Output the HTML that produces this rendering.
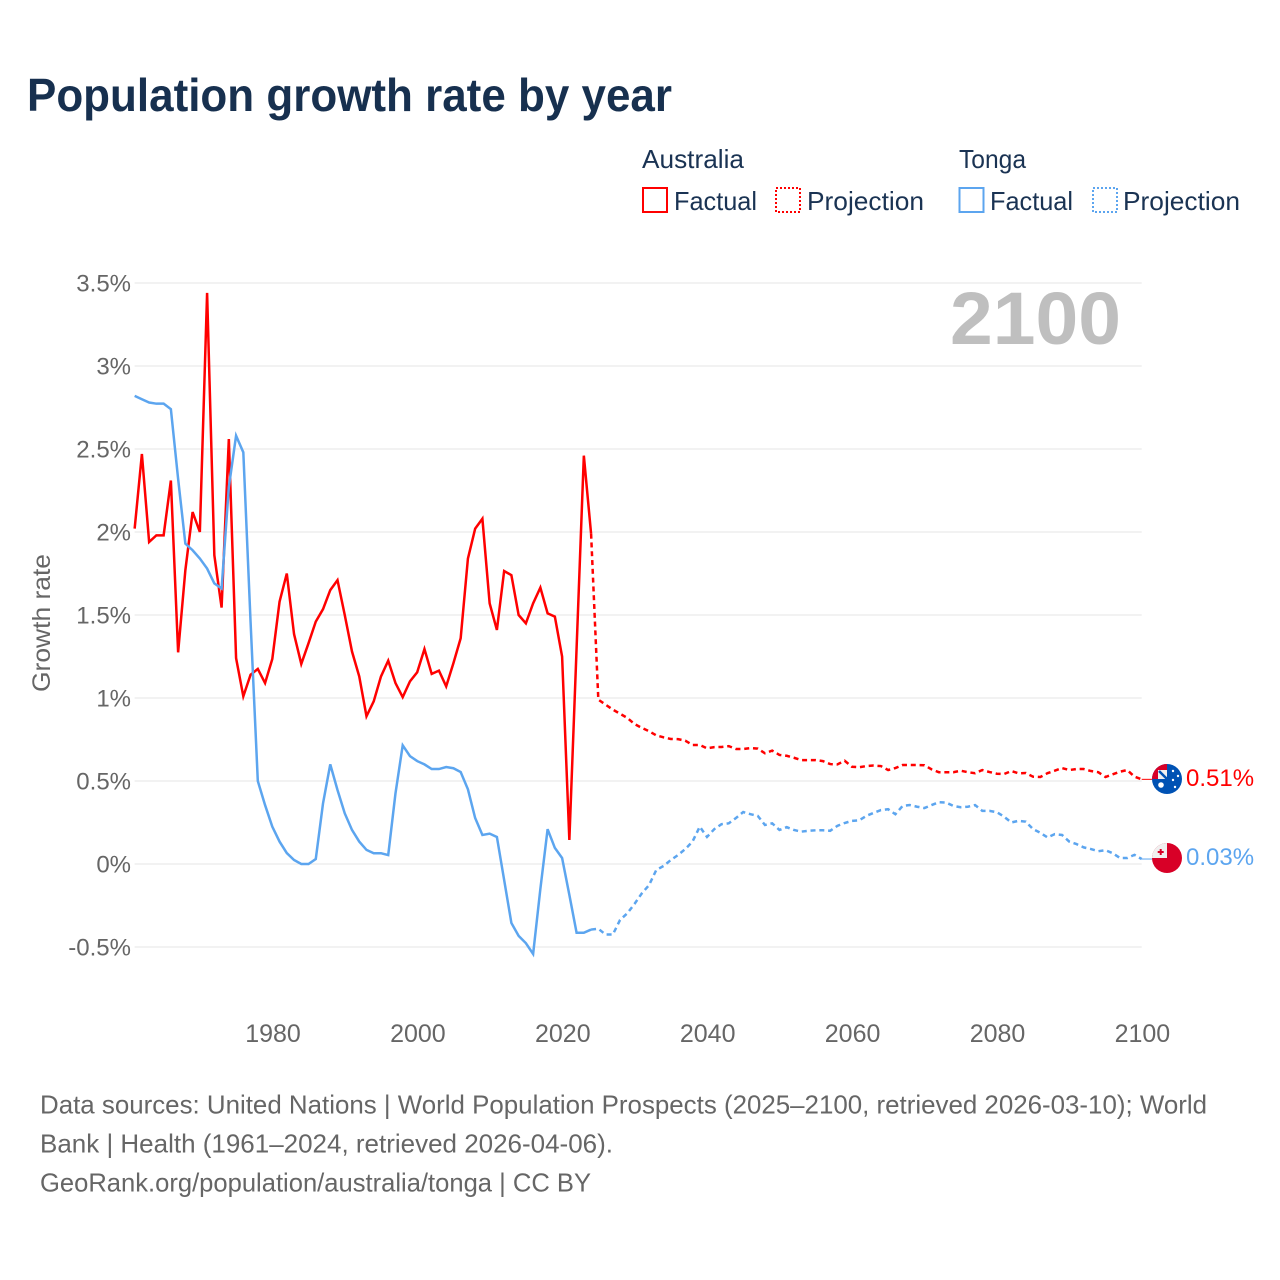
<!DOCTYPE html>
<html lang="en">
<head>
<meta charset="utf-8">
<title>Population growth rate by year</title>
<style>
html,body{margin:0;padding:0;background:#fff;}
svg{display:block;font-family:"Liberation Sans",sans-serif;}
</style>
</head>
<body>
<svg id="chart" xmlns="http://www.w3.org/2000/svg" width="1280" height="1280" viewBox="0 0 1280 1280">
  <defs>
    <clipPath id="clip-au"><circle cx="1167" cy="779" r="15"/></clipPath>
    <clipPath id="clip-to"><circle cx="1167" cy="858" r="15"/></clipPath>
  </defs>
  <rect width="1280" height="1280" fill="#fff"/>
  <text x="27" y="111" font-size="46" font-weight="700" fill="#17304f" textLength="645" lengthAdjust="spacingAndGlyphs">Population growth rate by year</text>

  <g font-size="26" fill="#1a3353">
    <text x="642" y="168" textLength="102" lengthAdjust="spacingAndGlyphs">Australia</text>
    <text x="959" y="168" textLength="67" lengthAdjust="spacingAndGlyphs">Tonga</text>
    <rect x="643" y="188" width="24" height="24" fill="none" stroke="#ff0000" stroke-width="2"/>
    <text x="674" y="210" textLength="83" lengthAdjust="spacingAndGlyphs">Factual</text>
    <rect x="776" y="188" width="24" height="24" fill="none" stroke="#ff0000" stroke-width="2" stroke-dasharray="2,2"/>
    <text x="807" y="210" textLength="117" lengthAdjust="spacingAndGlyphs">Projection</text>
    <rect x="959.5" y="188" width="24" height="24" fill="none" stroke="#5ca5ef" stroke-width="2"/>
    <text x="990" y="210" textLength="83" lengthAdjust="spacingAndGlyphs">Factual</text>
    <rect x="1093" y="188" width="24" height="24" fill="none" stroke="#5ca5ef" stroke-width="2" stroke-dasharray="2,2"/>
    <text x="1123" y="210" textLength="117" lengthAdjust="spacingAndGlyphs">Projection</text>
  </g>

  <g id="grid"></g>
  <g id="x-axis"></g>
  <g id="y-axis"></g>

  <text x="950" y="344" font-size="74" font-weight="700" fill="#bfbfbf" textLength="171" lengthAdjust="spacingAndGlyphs">2100</text>
  <text transform="translate(50,623) rotate(-90)" text-anchor="middle" font-size="25" fill="#666" textLength="138" lengthAdjust="spacingAndGlyphs">Growth rate</text>

  <g id="series"></g>

  <g clip-path="url(#clip-au)">
    <rect x="1150" y="762" width="34" height="34" fill="#0052b4"/>
    <rect x="1150" y="762" width="17" height="17" fill="#d80027"/>
    <rect x="1158" y="770" width="9" height="9" fill="#f0f0f0"/>
    <path d="M1159 771L1167 779" stroke="#0052b4" stroke-width="2.500"/>
    <circle cx="1161" cy="785" r="2.800" fill="#fff"/>
    <circle cx="1173" cy="771" r="1.200" fill="#fff"/>
    <circle cx="1178" cy="776" r="1.200" fill="#fff"/>
    <circle cx="1173" cy="780" r="1.200" fill="#fff"/>
    <circle cx="1175" cy="787" r="1.200" fill="#fff"/>
  </g>
  <g clip-path="url(#clip-to)">
    <rect x="1150" y="841" width="34" height="34" fill="#d80027"/>
    <rect x="1150" y="841" width="17" height="17" fill="#f0f0f0"/>
    <path d="M1160.700 849v6M1157.700 852h6" stroke="#d80027" stroke-width="2"/>
  </g>

  <text id="end-label-australia" x="1186" y="786" font-size="24" fill="#ff0000"></text>
  <text id="end-label-tonga" x="1186" y="865" font-size="24" fill="#5ca5ef"></text>

  <g font-size="26" fill="#666">
    <text x="40" y="1113.500" textLength="1167" lengthAdjust="spacingAndGlyphs">Data sources: United Nations | World Population Prospects (2025–2100, retrieved 2026-03-10); World</text>
    <text x="40" y="1152.500" textLength="573" lengthAdjust="spacingAndGlyphs">Bank | Health (1961–2024, retrieved 2026-04-06).</text>
    <text x="40" y="1191.500" textLength="551" lengthAdjust="spacingAndGlyphs">GeoRank.org/population/australia/tonga | CC BY</text>
  </g>
</svg>
<script>
const yTickValues = [-0.5, 0, 0.5, 1, 1.5, 2, 2.5, 3, 3.5];
const yTickLabels = ["-0.5%", "0%", "0.5%", "1%", "1.5%", "2%", "2.5%", "3%", "3.5%"];
const xTickYears = [1980, 2000, 2020, 2040, 2060, 2080, 2100];

const factualStartYear = 1961;
const projectionStartYear = 2025;

const australiaFactual = [
  2.02, 2.47, 1.94, 1.98, 1.98, 2.31, 1.275, 1.77, 2.12, 2.0,
  3.44, 1.86, 1.545, 2.56, 1.24, 1.01, 1.14, 1.175, 1.09, 1.235,
  1.58, 1.75, 1.385, 1.205, 1.33, 1.46, 1.535, 1.65, 1.71, 1.5,
  1.28, 1.13, 0.89, 0.98, 1.13, 1.225, 1.09, 1.005, 1.1, 1.155,
  1.295, 1.145, 1.165, 1.07, 1.21, 1.36, 1.84, 2.02, 2.08, 1.57,
  1.41, 1.765, 1.74, 1.5, 1.45, 1.57, 1.665, 1.51, 1.49, 1.25,
  0.145, 1.3, 2.46, 1.99
];
const australiaProjection = [
  0.99, 0.96, 0.93, 0.905, 0.88, 0.843, 0.82, 0.8, 0.775, 0.763,
  0.753, 0.752, 0.743, 0.717, 0.717, 0.697, 0.704, 0.705, 0.71, 0.693,
  0.693, 0.698, 0.695, 0.667, 0.683, 0.657, 0.652, 0.64, 0.626, 0.626,
  0.626, 0.62, 0.602, 0.6, 0.622, 0.586, 0.583, 0.59, 0.593, 0.59,
  0.566, 0.578, 0.596, 0.596, 0.596, 0.595, 0.57, 0.553, 0.553, 0.553,
  0.562, 0.553, 0.547, 0.566, 0.554, 0.544, 0.542, 0.56, 0.546, 0.548,
  0.526, 0.524, 0.547, 0.562, 0.578, 0.566, 0.572, 0.572, 0.56, 0.553,
  0.524, 0.54, 0.556, 0.566, 0.526, 0.51
];
const tongaFactual = [
  2.82, 2.8, 2.78, 2.773, 2.773, 2.74, 2.32, 1.93, 1.89, 1.84,
  1.78, 1.69, 1.66, 2.27, 2.58, 2.48, 1.46, 0.5, 0.355, 0.225,
  0.135, 0.066, 0.024, 0, 0, 0.03, 0.365, 0.6, 0.446, 0.305,
  0.205, 0.135, 0.085, 0.065, 0.065, 0.054, 0.425, 0.715, 0.65, 0.62,
  0.6, 0.572, 0.572, 0.584, 0.577, 0.554, 0.45, 0.277, 0.175, 0.183,
  0.163, -0.096, -0.355, -0.433, -0.477, -0.542, -0.15, 0.21, 0.097, 0.036,
  -0.186, -0.414, -0.414, -0.395
];
const tongaProjection = [
  -0.39, -0.425, -0.425, -0.337, -0.297, -0.24, -0.177, -0.127, -0.036, -0.012,
  0.024, 0.054, 0.09, 0.135, 0.225, 0.163, 0.21, 0.24, 0.245, 0.277,
  0.313, 0.3, 0.29, 0.235, 0.245, 0.205, 0.222, 0.205, 0.195, 0.2,
  0.203, 0.203, 0.2, 0.23, 0.247, 0.26, 0.263, 0.29, 0.308, 0.325,
  0.33, 0.3, 0.35, 0.355, 0.345, 0.337, 0.355, 0.372, 0.37, 0.35,
  0.342, 0.345, 0.355, 0.32, 0.32, 0.312, 0.285, 0.25, 0.26, 0.255,
  0.21, 0.188, 0.16, 0.18, 0.175, 0.135, 0.12, 0.1, 0.09, 0.077,
  0.083, 0.065, 0.036, 0.036, 0.055, 0.03
];

const SVG_NS = "http://www.w3.org/2000/svg";
const RED = "#ff0000";
const BLUE = "#5ca5ef";

function xScale(year) {
  return 272.3 + (year - 1980) * 7.245;
}
function yScale(value) {
  return 864 - value * 166;
}
function make(tag, parent) {
  const el = document.createElementNS(SVG_NS, tag);
  parent.appendChild(el);
  return el;
}
function linePath(values, startYear, leadYear, leadValue) {
  const pts = [];
  if (leadYear !== null) {
    pts.push(xScale(leadYear).toFixed(2) + "," + yScale(leadValue).toFixed(2));
  }
  values.forEach(function (v, i) {
    pts.push(xScale(startYear + i).toFixed(2) + "," + yScale(v).toFixed(2));
  });
  return "M" + pts.join("L");
}

const gridGroup = document.getElementById("grid");


const yAxisGroup = document.getElementById("y-axis");


const xAxisGroup = document.getElementById("x-axis");


const seriesGroup = document.getElementById("series");



yTickValues.forEach(function (v, i) {
  const gl = make("line", gridGroup);
  
  
  gl.setAttribute("x1", xScale(1961));
  gl.setAttribute("x2", xScale(2100));
  gl.setAttribute("y1", yScale(v));
  gl.setAttribute("y2", yScale(v));
  gl.setAttribute("stroke", "#e6e6e6");
  gl.setAttribute("stroke-width", "1");
  const t = make("text", yAxisGroup);
  
  
  t.setAttribute("x", 131);
  t.setAttribute("y", yScale(v) + 8.5);
  t.setAttribute("text-anchor", "end");
  t.setAttribute("font-size", "24");
  t.setAttribute("fill", "#666");
  t.textContent = yTickLabels[i];
});

xTickYears.forEach(function (year) {
  const t = make("text", xAxisGroup);
  
  
  t.setAttribute("x", xScale(year) + 0.7);
  t.setAttribute("y", 1042);
  t.setAttribute("text-anchor", "middle");
  t.setAttribute("font-size", "25");
  t.setAttribute("fill", "#666");
  t.textContent = String(year);
});

function drawStyled(el, d, color, dashed) {
  el.setAttribute("d", d);
  el.setAttribute("fill", "none");
  el.setAttribute("stroke", color);
  el.setAttribute("stroke-width", "2.5");
  el.setAttribute("stroke-linejoin", "miter");
  if (dashed) {
    el.setAttribute("stroke-dasharray", "5,3.8");
  }
}

const auFactualLine = make("path", seriesGroup);


drawStyled(auFactualLine, linePath(australiaFactual, factualStartYear, null, 0), RED, false);

const auProjectionLine = make("path", seriesGroup);


drawStyled(auProjectionLine, linePath(australiaProjection, projectionStartYear, projectionStartYear - 1, australiaFactual[australiaFactual.length - 1]), RED, true);

const toFactualLine = make("path", seriesGroup);


drawStyled(toFactualLine, linePath(tongaFactual, factualStartYear, null, 0), BLUE, false);

const toProjectionLine = make("path", seriesGroup);


drawStyled(toProjectionLine, linePath(tongaProjection, projectionStartYear, projectionStartYear - 1, tongaFactual[tongaFactual.length - 1]), BLUE, true);

const auLast = australiaProjection[australiaProjection.length - 1];
const toLast = tongaProjection[tongaProjection.length - 1];

const auConnector = make("line", seriesGroup);


auConnector.setAttribute("x1", xScale(2100));
auConnector.setAttribute("x2", 1153);
auConnector.setAttribute("y1", yScale(auLast));
auConnector.setAttribute("y2", yScale(auLast));
auConnector.setAttribute("stroke", RED);
auConnector.setAttribute("stroke-width", "1");

const toConnector = make("line", seriesGroup);


toConnector.setAttribute("x1", xScale(2100));
toConnector.setAttribute("x2", 1153);
toConnector.setAttribute("y1", yScale(toLast));
toConnector.setAttribute("y2", yScale(toLast));
toConnector.setAttribute("stroke", BLUE);
toConnector.setAttribute("stroke-width", "1");

document.getElementById("end-label-australia").textContent = auLast.toFixed(2) + "%";
document.getElementById("end-label-tonga").textContent = toLast.toFixed(2) + "%";
</script>
</body>
</html>
